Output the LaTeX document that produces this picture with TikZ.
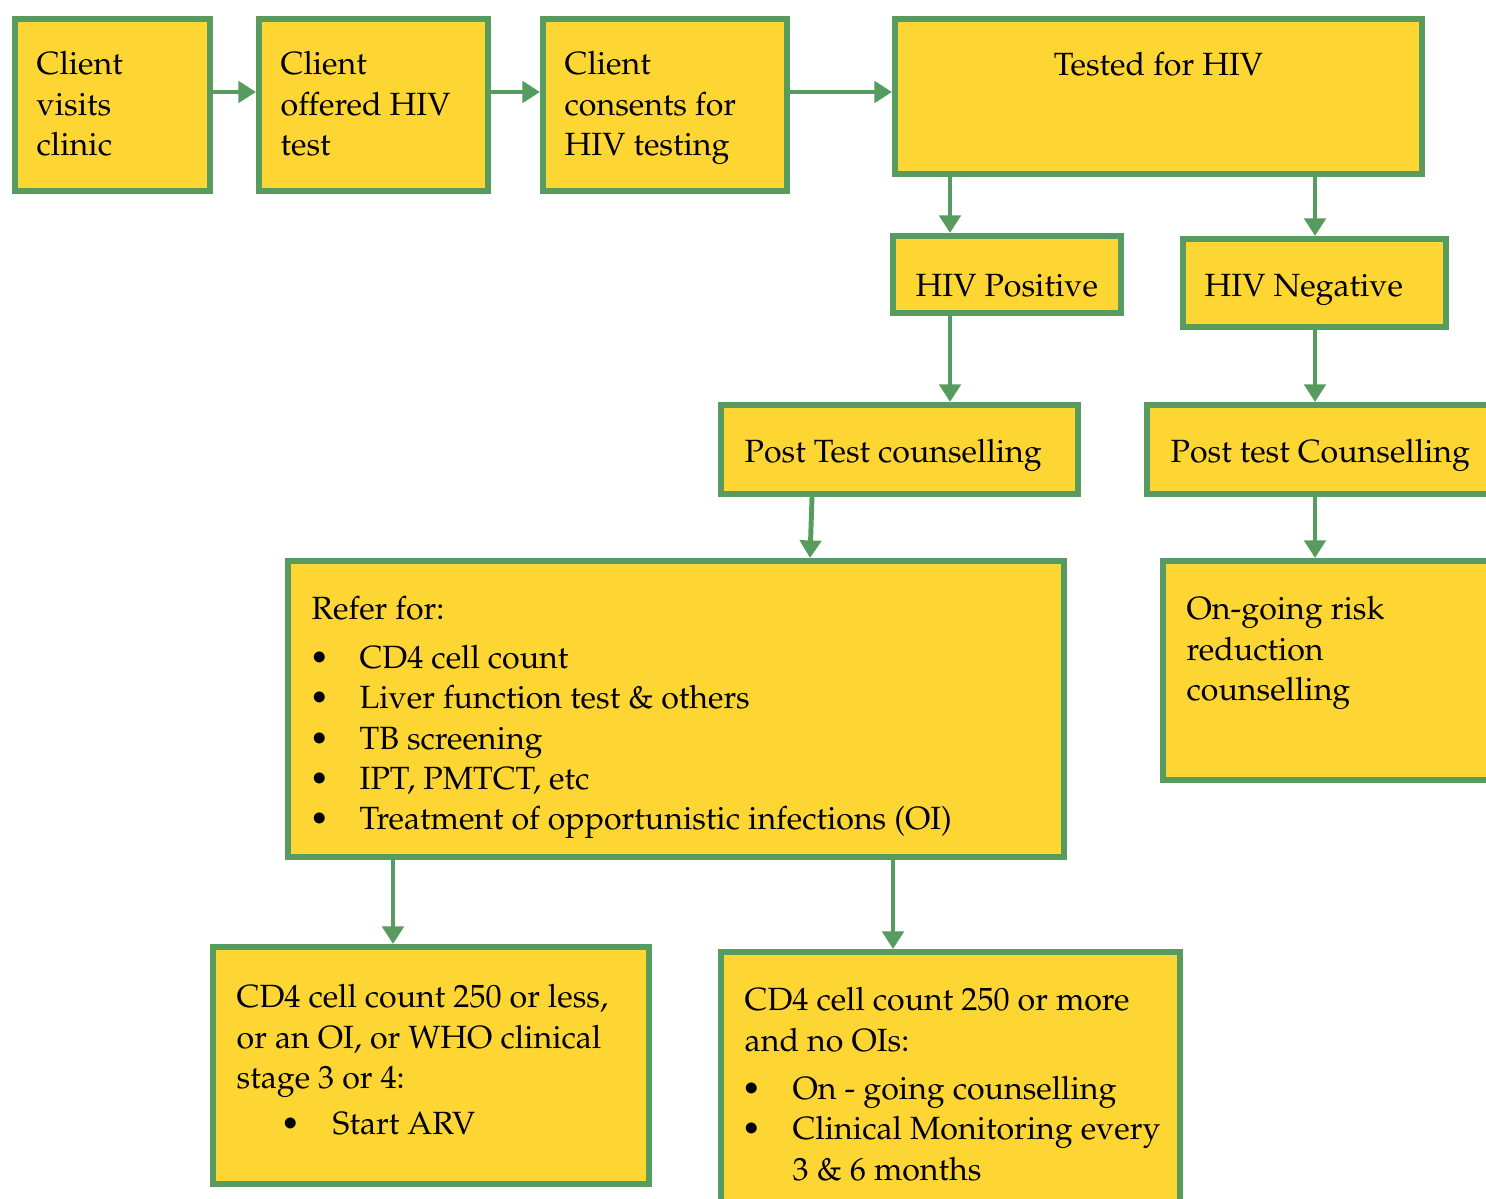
\documentclass[tikz,border=0pt]{standalone}
\usepackage[T1]{fontenc}
\usepackage{mathpazo}
\usetikzlibrary{arrows.meta}

\definecolor{boxgreen}{HTML}{579B5E}
\definecolor{boxyellow}{HTML}{FED634}
\newcommand{\boxlines}[1]{\begin{tabular}[t]{@{}l@{}}#1\end{tabular}}
\newcommand{\dotitem}[2]{\hspace{#1}\makebox[#2][l]{\textbullet}}

\begin{document}
\begin{tikzpicture}[
    box/.style={draw=boxgreen, fill=boxyellow, line width=1.7pt, inner sep=0pt},
    txt/.style={inner sep=0pt, anchor=base west, font=\fontsize{9.15}{11.45}\selectfont},
    flow/.style={draw=boxgreen, line width=1.4pt, -{Triangle[length=5pt, width=6pt]}}
]
    % Fix the frame of the picture
    \useasboundingbox (0,0) rectangle (14.86,-11.99);
    \clip (0,0) rectangle (14.86,-11.99);

    % Top row of boxes
    \node[box, minimum width=1.95cm, minimum height=1.72cm] (visit) at (1.125,-1.05) {};
    \node[box, minimum width=2.29cm, minimum height=1.72cm] (offer) at (3.735,-1.05) {};
    \node[box, minimum width=2.44cm, minimum height=1.72cm] (consent) at (6.65,-1.05) {};
    \node[box, minimum width=5.27cm, minimum height=1.55cm] (tested) at (11.585,-0.965) {};

    % Test results
    \node[box, minimum width=2.28cm, minimum height=0.77cm] (pos) at (10.07,-2.745) {};
    \node[box, minimum width=2.63cm, minimum height=0.88cm] (neg) at (13.145,-2.83) {};

    % Post test counselling
    \node[box, minimum width=3.57cm, minimum height=0.89cm] (ptcpos) at (8.995,-4.495) {};
    \node[box, minimum width=4.13cm, minimum height=0.89cm] (ptcneg) at (13.535,-4.495) {};

    % Referral and follow-up
    \node[box, minimum width=7.76cm, minimum height=2.96cm] (refer) at (6.76,-7.09) {};
    \node[box, minimum width=3.97cm, minimum height=2.19cm] (ongoing) at (13.615,-6.705) {};

    % CD4 outcomes
    \node[box, minimum width=4.36cm, minimum height=2.37cm] (low) at (4.31,-10.655) {};
    \node[box, minimum width=4.59cm, minimum height=3.05cm] (high) at (9.505,-11.045) {};

    % Texts
    \node[txt] (visittxt) at (0.36,-0.75) {\boxlines{Client\\visits\\clinic}};
    \node[txt] (offertxt) at (2.80,-0.75) {\boxlines{Client\\offered HIV\\test}};
    \node[txt] (consenttxt) at (5.64,-0.75) {\boxlines{Client\\consents for\\HIV testing}};
    \node[txt, anchor=base] (testedtxt) at (11.585,-0.76) {Tested for HIV};
    \node[txt] (postxt) at (9.15,-2.97) {HIV Positive};
    \node[txt] (negtxt) at (12.04,-2.97) {HIV Negative};
    \node[txt] (ptcpostxt) at (7.44,-4.63) {Post Test counselling};
    \node[txt] (ptcnegtxt) at (11.70,-4.63) {Post test Counselling};
    \node[txt] (refertxt) at (3.11,-6.20) {\boxlines{Refer for:\\[2.4pt]
        \dotitem{-0.02cm}{0.50cm}CD4 cell count\\
        \dotitem{-0.02cm}{0.50cm}Liver function test \& others\\
        \dotitem{-0.02cm}{0.50cm}TB screening\\
        \dotitem{-0.02cm}{0.50cm}IPT, PMTCT, etc\\
        \dotitem{-0.02cm}{0.50cm}Treatment of opportunistic infections (OI)}};
    \node[txt] (ongoingtxt) at (11.86,-6.20) {\boxlines{On-going risk\\reduction\\counselling}};
    \node[txt] (lowtxt) at (2.36,-10.08) {\boxlines{CD4 cell count 250 or less,\\
        or an OI, or WHO clinical\\stage 3 or 4:\\[1.7pt]
        \dotitem{0.44cm}{0.52cm}Start ARV}};
    \node[txt] (hightxt) at (7.44,-10.11) {\boxlines{CD4 cell count 250 or more\\
        and no OIs:\\[2.3pt]
        \dotitem{-0.03cm}{0.51cm}On - going counselling\\
        \dotitem{-0.03cm}{0.51cm}Clinical Monitoring every\\
        \hspace{0.48cm}3 \& 6 months}};

    % Arrows along the top row
    \draw[flow] ([yshift=1.3mm]visit.east) -- ([yshift=1.3mm]offer.west);
    \draw[flow] ([yshift=1.3mm]offer.east) -- ([yshift=1.3mm]consent.west);
    \draw[flow] ([yshift=1.3mm]consent.east) -- ([yshift=1.3mm]consent.east -| tested.west);

    % Arrows down to the results
    \draw[flow] ([xshift=5.8mm]tested.south west) -- ([xshift=5.8mm]tested.south west |- pos.north);
    \draw[flow] ([xshift=13.5mm]neg.north west |- tested.south) -- ([xshift=13.5mm]neg.north west);

    % Arrows to counselling
    \draw[flow] ([xshift=6mm]pos.south west) -- ([xshift=6mm]pos.south west |- ptcpos.north);
    \draw[flow] ([xshift=13.5mm]neg.south west) -- ([xshift=13.5mm]neg.south west |- ptcneg.north);
    \draw[flow] ([xshift=9.4mm]ptcpos.south west) -- ([xshift=52.5mm]refer.north west);
    \draw[flow] ([xshift=17.1mm]ptcneg.south west) -- ([xshift=17.1mm]ptcneg.south west |- ongoing.north);

    % Arrows to the CD4 outcomes
    \draw[flow] ([xshift=10.8mm]refer.south west) -- ([xshift=10.8mm]refer.south west |- low.north);
    \draw[flow] ([xshift=60.8mm]refer.south west) -- ([xshift=60.8mm]refer.south west |- high.north);
\end{tikzpicture}
\end{document}
